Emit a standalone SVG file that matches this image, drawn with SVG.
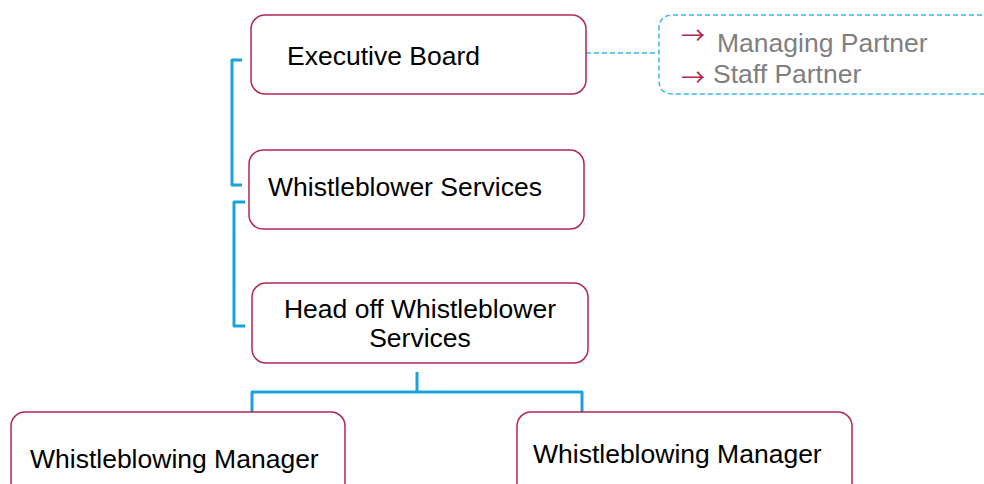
<svg xmlns="http://www.w3.org/2000/svg" width="984" height="484" viewBox="0 0 984 484">
<style>
.box{fill:#fff;stroke:#B3284F;stroke-width:1.5}
.t{font-family:"Liberation Sans",Arial,sans-serif;font-size:26.5px;fill:#000}
.g{font-family:"Liberation Sans",Arial,sans-serif;font-size:26.5px;fill:#7f7f7f}
.ar{font-family:"Noto Sans CJK JP",sans-serif;font-size:24px;fill:#B3284F}
.br{fill:none;stroke:#1AA2DC;stroke-width:3;stroke-linejoin:round}
.dash{fill:none;stroke:#3BB6E8;stroke-width:1.5;stroke-dasharray:5 3}
</style>
<rect width="984" height="484" fill="#fff"/>
<g id="connectors">
<path class="br" d="M242,60 H232 V185 H242"/>
<path class="br" d="M245,202 H234 V326 H245"/>
<path class="br" d="M417,372 V392 M252,412 V392 H582 V412"/>
<path class="dash" d="M586,53 H659"/>
</g>
<g id="executive-board">
<rect class="box" x="251" y="15" width="335" height="79" rx="14"/>
<text class="t" x="287" y="65">Executive Board</text>
</g>
<g id="partners">
<path class="dash" d="M990,15 H673 Q659,15 659,29 V80 Q659,94 673,94 H990"/>
<text class="ar" x="681" y="44">→</text>
<text class="g" x="717" y="52">Managing Partner</text>
<text class="ar" x="681" y="86">→</text>
<text class="g" x="713" y="83">Staff Partner</text>
</g>
<g id="whistleblower-services">
<rect class="box" x="249" y="150" width="335" height="79" rx="14"/>
<text class="t" x="268" y="196">Whistleblower Services</text>
</g>
<g id="head-whistleblower-services">
<rect class="box" x="252" y="283" width="336" height="80" rx="14"/>
<text class="t" x="420" y="318" text-anchor="middle">Head off Whistleblower</text>
<text class="t" x="420" y="347" text-anchor="middle">Services</text>
</g>
<g id="manager-left">
<rect class="box" x="11" y="412" width="334" height="90" rx="14"/>
<text class="t" x="30" y="468">Whistleblowing Manager</text>
</g>
<g id="manager-right">
<rect class="box" x="517" y="412" width="335" height="90" rx="14"/>
<text class="t" x="533" y="463">Whistleblowing Manager</text>
</g>
</svg>
